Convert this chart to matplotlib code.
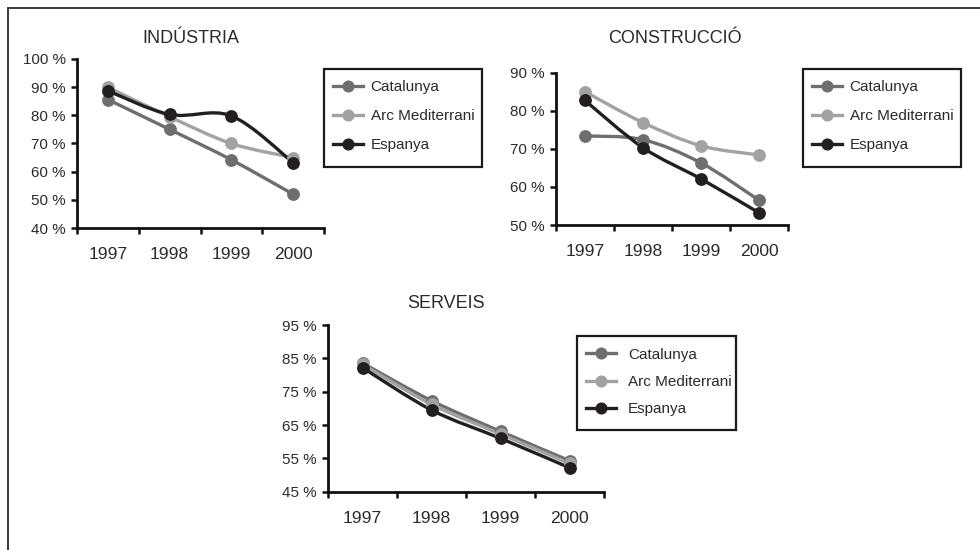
import matplotlib
matplotlib.use("Agg")
import matplotlib.pyplot as plt
from matplotlib.path import Path
from matplotlib.patches import PathPatch, Rectangle
from matplotlib.lines import Line2D
import numpy as np

# ---- data -------------------------------------------------------------
years = ["1997", "1998", "1999", "2000"]
series_names = ["Catalunya", "Arc Mediterrani", "Espanya"]

industria_catalunya = [85.6, 75.0, 64.2, 52.0]
industria_arc = [90.0, 79.5, 70.0, 65.0]
industria_espanya = [88.7, 80.3, 79.8, 63.2]

construccio_catalunya = [73.4, 72.4, 66.3, 56.5]
construccio_arc = [85.0, 76.9, 70.8, 68.4]
construccio_espanya = [82.7, 70.3, 62.1, 53.2]

serveis_catalunya = [83.6, 72.3, 63.1, 54.3]
serveis_arc = [83.2, 71.2, 62.3, 53.5]
serveis_espanya = [82.2, 69.5, 61.0, 52.2]

industria_yticks = [40, 50, 60, 70, 80, 90, 100]
construccio_yticks = [50, 60, 70, 80, 90]
serveis_yticks = [45, 55, 65, 75, 85, 95]

# ---- style ------------------------------------------------------------
plt.rcParams["font.family"] = ["Liberation Sans", "DejaVu Sans"]

TEXT = "#2a2a2a"
COLORS = {"Catalunya": "#6e6e6e", "Arc Mediterrani": "#a2a2a2", "Espanya": "#231f20"}
LW = 2.4
MS = 8.2

W, H = 980, 550
fig = plt.figure(figsize=(W / 100, H / 100), dpi=100)


def px_axes(x0, y0, x1, y1):
    """Axes placed by pixel box (top-left origin)."""
    return fig.add_axes([x0 / W, 1 - y1 / H, (x1 - x0) / W, (y1 - y0) / H])


def smooth_path(xs, ys):
    """Cubic Bezier path through the points (Catmull-Rom tangents)."""
    pts = np.column_stack([xs, ys]).astype(float)
    n = len(pts)
    verts = [pts[0]]
    codes = [Path.MOVETO]
    for i in range(n - 1):
        p0 = pts[i - 1] if i > 0 else pts[i]
        p1 = pts[i]
        p2 = pts[i + 1]
        p3 = pts[i + 2] if i + 2 < n else pts[i + 1]
        c1 = p1 + (p2 - p0) / 6.0
        c2 = p2 - (p3 - p1) / 6.0
        verts += [c1, c2, p2]
        codes += [Path.CURVE4] * 3
    return Path(verts, codes)


def panel(box, title, title_xy, data, yticks):
    ax = px_axes(*box)
    x = np.arange(len(years))
    for name, vals in zip(series_names, data):
        col = COLORS[name]
        ax.add_patch(PathPatch(smooth_path(x, vals), facecolor="none",
                               edgecolor=col, lw=LW, zorder=3, capstyle="round"))
        ax.plot(x, vals, linestyle="none", marker="o", ms=MS, color=col,
                mec=col, zorder=4)
    ax.set_xlim(-0.5, len(years) - 0.5)
    ax.set_ylim(yticks[0], yticks[-1])
    ax.set_yticks(yticks)
    ax.set_yticklabels([f"{v} %" for v in yticks])
    ax.set_xticks(np.arange(-0.5, len(years), 1.0))
    ax.set_xticklabels([])
    ax.set_xticks(x, minor=True)
    ax.set_xticklabels(years, minor=True)
    ax.tick_params(axis="x", which="major", direction="out", length=4,
                   width=1.8, color="#111")
    ax.tick_params(axis="x", which="minor", length=0, pad=14,
                   labelsize=12.6, labelcolor=TEXT)
    ax.tick_params(axis="y", direction="out", length=4.5, width=1.8,
                   color="#111", pad=3.5, labelsize=10.9, labelcolor=TEXT)
    for s in ("top", "right"):
        ax.spines[s].set_visible(False)
    for s in ("left", "bottom"):
        ax.spines[s].set_linewidth(2.0)
        ax.spines[s].set_color("#111")
    ax.patch.set_alpha(0)
    fig.text(title_xy[0] / W, 1 - title_xy[1] / H, title, ha="center",
             va="center", fontsize=13, color=TEXT)
    return ax


def legend_box(x0, y0, x1, y1, spacing, textpad):
    # frame drawn as its own rectangle, entries placed inside it
    fig.add_artist(Rectangle((x0 / W, 1 - y1 / H), (x1 - x0) / W, (y1 - y0) / H,
                             transform=fig.transFigure, facecolor="white",
                             edgecolor="#1a1a1a", lw=1.6, zorder=1))
    handles = [Line2D([], [], color=COLORS[n], lw=LW, marker="o", ms=MS - 0.5)
               for n in series_names]
    leg = fig.legend(handles, series_names, loc="upper left",
                     bbox_to_anchor=((x0 + 9) / W, 1 - (y0 + 11.5) / H),
                     borderaxespad=0, borderpad=0, frameon=False,
                     fontsize=11, handlelength=1.96, handletextpad=textpad,
                     labelspacing=spacing, labelcolor=TEXT)
    leg.set_zorder(2)
    return leg


panel((77, 59, 324, 228), "INDÚSTRIA", (191, 38.5),
      [industria_catalunya, industria_arc, industria_espanya], industria_yticks)
legend_box(324, 69, 482, 167, 0.98, 0.5)

panel((556, 72.7, 788, 225), "CONSTRUCCIÓ", (675, 38.5),
      [construccio_catalunya, construccio_arc, construccio_espanya], construccio_yticks)
legend_box(803, 69, 961, 167, 0.98, 0.5)

panel((328, 325, 604, 491.7), "SERVEIS", (446, 304),
      [serveis_catalunya, serveis_arc, serveis_espanya], serveis_yticks)
legend_box(577, 336, 736, 430, 0.88, 0.8)

# outer frame (top and left edges)
fig.add_artist(Line2D([8 / W, 1.0], [1 - 8 / H, 1 - 8 / H], color="#3a3a3a",
                      lw=1.4, transform=fig.transFigure))
fig.add_artist(Line2D([8 / W, 8 / W], [1 - 8 / H, 0.0], color="#3a3a3a",
                      lw=1.4, transform=fig.transFigure))

fig.savefig("out.png", dpi=100, facecolor="white")
